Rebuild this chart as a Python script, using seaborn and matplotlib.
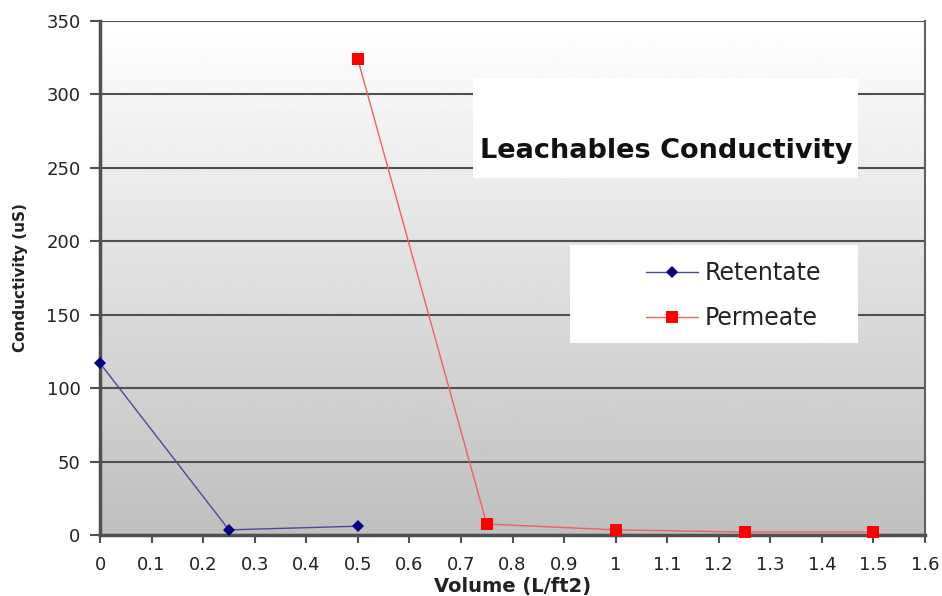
import numpy as np
import pandas as pd
import matplotlib
matplotlib.use("Agg")
import matplotlib.pyplot as plt
from matplotlib.patches import Rectangle
import seaborn as sns

# Conductivity of leachables vs. flushed volume
retentate_volume = [0.0, 0.25, 0.5]
retentate_cond = [117, 3.5, 6]
permeate_volume = [0.5, 0.75, 1.0, 1.25, 1.5]
permeate_cond = [324, 7.5, 3.5, 2, 2]

x_ticks = [0, 0.1, 0.2, 0.3, 0.4, 0.5, 0.6, 0.7, 0.8, 0.9, 1.0, 1.1, 1.2, 1.3, 1.4, 1.5, 1.6]
x_tick_labels = ["0", "0.1", "0.2", "0.3", "0.4", "0.5", "0.6", "0.7", "0.8", "0.9",
                 "1", "1.1", "1.2", "1.3", "1.4", "1.5", "1.6"]
y_ticks = [0, 50, 100, 150, 200, 250, 300, 350]

retentate = pd.DataFrame({"Volume": retentate_volume, "Conductivity": retentate_cond})
permeate = pd.DataFrame({"Volume": permeate_volume, "Conductivity": permeate_cond})

sns.set_theme(style="white")
plt.rcParams["font.family"] = ["DejaVu Sans"]

fig = plt.figure(figsize=(9.42, 5.96), dpi=100)
fig.patch.set_facecolor("white")
ax = fig.add_axes([100 / 942, 61 / 596, 825 / 942, 514 / 596])

# vertical gray gradient for the plotting area
grad = np.linspace(0.75, 1.0, 256).reshape(-1, 1)
ax.imshow(grad, cmap="gray", vmin=0, vmax=1, aspect="auto",
          extent=[0, 1, 0, 1], transform=ax.transAxes, origin="lower", zorder=0)

sns.lineplot(data=retentate, x="Volume", y="Conductivity", ax=ax, color="#000080",
             marker="D", markersize=6, markeredgewidth=0, linewidth=1.0,
             label="Retentate", zorder=4, clip_on=False)
ax.lines[-1].set_color("#4a4a9a")
ax.lines[-1].set_markerfacecolor("#000080")
ax.lines[-1].set_markeredgecolor("#000080")

sns.lineplot(data=permeate, x="Volume", y="Conductivity", ax=ax, color="#ff0000",
             marker="s", markersize=9, markeredgewidth=0, linewidth=1.0,
             label="Permeate", zorder=4, clip_on=False)
ax.lines[-1].set_color("#f06060")
ax.lines[-1].set_markerfacecolor("#ff0000")
ax.lines[-1].set_markeredgecolor("#ff0000")

ax.set_xlim(0, 1.6)
ax.set_ylim(0, 350)
ax.set_xticks(x_ticks)
ax.set_xticklabels(x_tick_labels)
ax.set_yticks(y_ticks)

ax.grid(axis="y", color="#505050", linewidth=1.5)
ax.grid(axis="x", visible=False)
ax.set_axisbelow(True)
for gl in ax.get_ygridlines():
    gl.set_zorder(1)

ax.tick_params(axis="both", which="both", direction="out", colors="#505050",
               labelcolor="#222222", labelsize=13)
ax.tick_params(axis="x", length=6, width=1.5, pad=9)
ax.tick_params(axis="y", length=7, width=1.5, pad=7)
ax.xaxis.set_ticks_position("bottom")
ax.yaxis.set_ticks_position("left")

for side in ("left", "bottom"):
    ax.spines[side].set_color("#505050")
    ax.spines[side].set_linewidth(2.5)
ax.spines["right"].set_color("#606060")
ax.spines["right"].set_linewidth(1.5)
ax.spines["top"].set_visible(False)
for sp in ax.spines.values():
    sp.set_zorder(3.5)

ax.set_xlabel("Volume (L/ft2)", fontsize=14, fontweight="bold", color="#222222", labelpad=2)
ax.set_ylabel("Conductivity (uS)", fontsize=11, fontweight="bold", color="#222222", labelpad=13)

# title panel
ax.add_patch(Rectangle((0.452, 0.695), 0.467, 0.194, transform=ax.transAxes,
                       facecolor="white", edgecolor="none", zorder=2))
ax.text(0.686, 0.748, "Leachables Conductivity", transform=ax.transAxes,
        ha="center", va="center", fontsize=19.5, fontweight="bold",
        color="#111111", zorder=3)

# legend panel
ax.add_patch(Rectangle((0.570, 0.374), 0.349, 0.190, transform=ax.transAxes,
                       facecolor="white", edgecolor="none", zorder=2))
leg = ax.legend(loc="center", bbox_to_anchor=(0.768, 0.466), frameon=False,
                fontsize=17, handlelength=2.2, handletextpad=0.3, labelspacing=0.9,
                borderpad=0)
leg.set_zorder(3)
for t in leg.get_texts():
    t.set_color("#222222")

fig.savefig("out.png", dpi=100, facecolor="white")
